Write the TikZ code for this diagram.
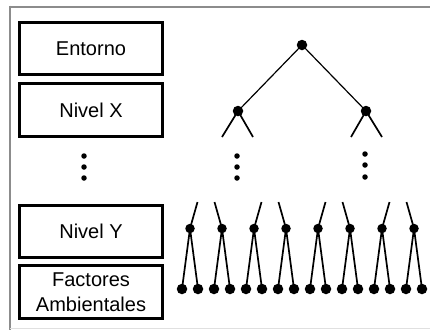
\documentclass[tikz,border=0pt]{standalone}
\usepackage{fontspec}
\setmainfont{Liberation Sans}
\begin{document}
\begin{tikzpicture}[x=1pt,y=-1pt,
  levelbox/.style={draw=black, line width=2.8pt, minimum width=143.5pt, minimum height=52.5pt, inner sep=0pt, align=center, font=\fontsize{20}{25}\selectfont},
  bigdot/.style={circle, fill=black, inner sep=0pt, minimum size=10.5pt},
  middot/.style={circle, fill=black, inner sep=0pt, minimum size=9.5pt},
  tinydot/.style={circle, fill=black, inner sep=0pt, minimum size=5.5pt},
  edgeline/.style={line width=1.2pt},
  twig/.style={line width=1.7pt},
  frameline/.style={draw=black!45, line width=2pt}]
\useasboundingbox (0,0) rectangle (430,330);
% frame
\draw[frameline] (10,6.5) -- (430,6.5);
\draw[frameline, line width=1.5pt] (10,5.5) -- (10,330);
\draw[draw=black!12, line width=1pt] (10,328.5) -- (430,328.5);
% level boxes
\node[levelbox] (entorno) at (91,48.5) {Entorno};
\node[levelbox] (nivelx) at (91,110) {Nivel X};
\node[levelbox] (nively) at (91,231.5) {Nivel Y};
\node[levelbox, minimum height=53.5pt] (factores) at (91,292) {Factores\\Ambientales};
% left ellipsis
\node[tinydot] (ld1) at (84,156) {};
\node[tinydot] (ld2) at (84,167) {};
\node[tinydot] (ld3) at (84,178) {};
% tree top
\node[bigdot] (root) at (302,45) {};
\node[bigdot] (L) at (238,111) {};
\node[bigdot] (R) at (366,111) {};
\draw[edgeline] (root.center) -- (L.center);
\draw[edgeline] (root.center) -- (R.center);
\coordinate (Ls1) at (222,137);
\coordinate (Ls2) at (253,137);
\coordinate (Rs1) at (351,137);
\coordinate (Rs2) at (382,137);
\draw[twig] (L.center) -- (Ls1);
\draw[twig] (L.center) -- (Ls2);
\draw[twig] (R.center) -- (Rs1);
\draw[twig] (R.center) -- (Rs2);
% tree ellipsis
\node[tinydot] (td1) at (237,156) {};
\node[tinydot] (td2) at (237,167) {};
\node[tinydot] (td3) at (237,178) {};
\node[tinydot] (ud1) at (365,154) {};
\node[tinydot] (ud2) at (365,165) {};
\node[tinydot] (ud3) at (365,177) {};
% bottom levels
\foreach \i in {0,...,7}{
  \pgfmathsetmacro{\mx}{190+32*\i}
  \pgfmathsetmacro{\sx}{190+32*\i+(mod(\i,2)==0 ? 7.5 : -7.5)}
  \node[middot] (m\i) at (\mx,228.5) {};
  \coordinate (s\i) at (\sx,202);
  \node[bigdot] (a\i) at (\mx-8,289) {};
  \node[bigdot] (b\i) at (\mx+8,289) {};
  \draw[twig] (m\i.center) -- (s\i);
  \draw[twig] (m\i.center) -- (a\i.center);
  \draw[twig] (m\i.center) -- (b\i.center);
}
\end{tikzpicture}
\end{document}
